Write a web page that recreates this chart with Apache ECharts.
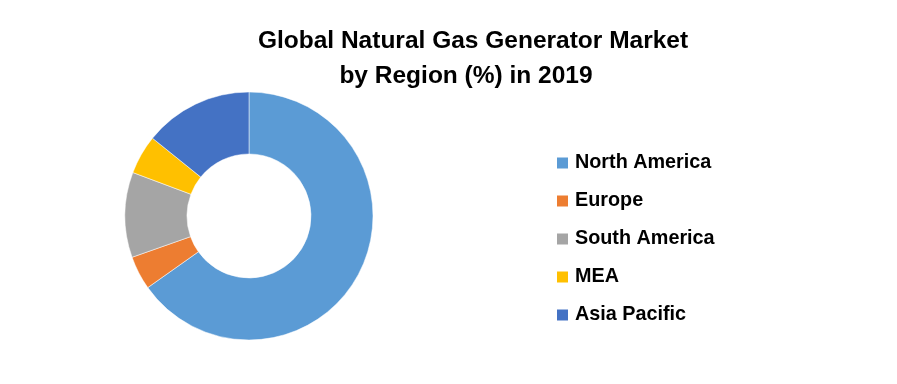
<!DOCTYPE html>
<html><head><meta charset="utf-8">
<script src="https://cdn.jsdelivr.net/npm/echarts@6/dist/echarts.min.js"></script>
<style>html,body{margin:0;padding:0;background:#fff}#c{width:897px;height:384px}</style>
</head><body><div id="c"></div>
<script>
const regions = ["North America", "Europe", "South America", "MEA", "Asia Pacific"];
const shares = [65.2, 4.4, 11.1, 5.1, 14.2];
const colors = ["#5B9BD5", "#ED7D31", "#A5A5A5", "#FFC000", "#4472C4"];
const titleLines = ["Global Natural Gas Generator Market", "by Region (%) in 2019"];

const chart = echarts.init(document.getElementById('c'), null, {renderer: 'canvas'});
const font = "'Liberation Sans', Arial, sans-serif";
chart.setOption({
  animation: false,
  title: [
    {text: titleLines[0], left: 473, top: 29, textAlign: 'center', padding: 0,
     textStyle: {fontFamily: font, fontSize: 24.5, fontWeight: 'bold', color: '#000', lineHeight: 24}},
    {text: titleLines[1], left: 466, top: 64, textAlign: 'center', padding: 0,
     textStyle: {fontFamily: font, fontSize: 24.5, fontWeight: 'bold', color: '#000', lineHeight: 24}}
  ],
  legend: {
    orient: 'vertical', left: 555, top: 153, padding: 0,
    itemWidth: 13, itemHeight: 13, itemGap: 18, icon: 'rect',
    textStyle: {fontFamily: font, fontSize: 19.8, fontWeight: 'bold', color: '#000', lineHeight: 20, padding: [0,0,0,1]},
    data: regions
  },
  color: colors,
  series: [{
    type: 'pie', center: [249, 216], radius: [62, 124],
    startAngle: 90, clockwise: true, avoidLabelOverlap: false,
    label: {show: false}, labelLine: {show: false},
    itemStyle: {borderColor: '#fff', borderWidth: 0.5},
    data: regions.map((r, i) => ({name: r, value: shares[i]}))
  }]
});
</script></body></html>
